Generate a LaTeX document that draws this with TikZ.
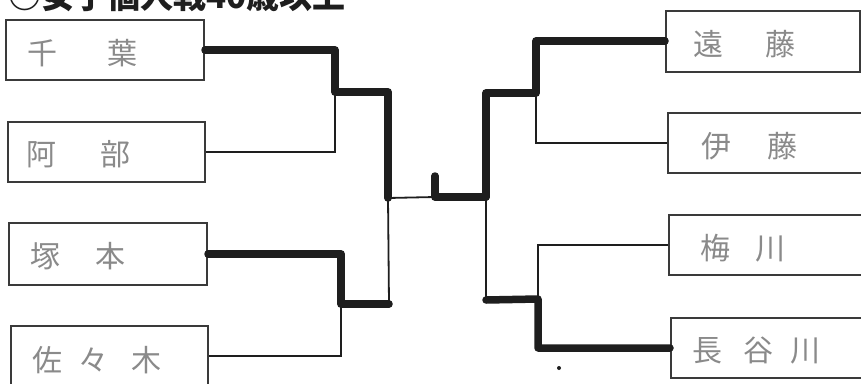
\documentclass[tikz,border=0pt]{standalone}
\usepackage{fontspec}
\newfontfamily\cjk{Noto Sans CJK JP}
\definecolor{ink}{HTML}{1E1E1E}
\definecolor{boxc}{HTML}{3A3A3A}
\definecolor{hand}{HTML}{8A8A8A}
\begin{document}
\begin{tikzpicture}[x=1pt,y=-1pt,
  box/.style={draw=boxc, line width=2pt, rectangle, inner sep=0pt},
  thinline/.style={draw=ink, line width=1.8pt},
  winline/.style={draw=ink, line width=7.5pt, line join=round, line cap=round},
  hname/.style={anchor=west, text=hand, font=\cjk\fontsize{30}{30}\selectfont, inner sep=0pt}]
\useasboundingbox (0,0) rectangle (861,383);
\clip (0,0) rectangle (861,383);
\fill[white] (0,0) rectangle (861,383);
% title (cut off at the top)
\node[anchor=base west, inner sep=0pt, text=ink, font=\cjk\bfseries\fontsize{33}{33}\selectfont] (title) at (8,8) {○女子個人戦40歳以上};
% boxes
\node[box, minimum width=198pt, minimum height=60pt] (L1) at (105,50) {};
\node[box, minimum width=197pt, minimum height=60pt] (L2) at (106.5,152) {};
\node[box, minimum width=198pt, minimum height=62pt] (L3) at (108,254) {};
\node[box, minimum width=197pt, minimum height=60pt] (L4) at (109.5,356) {};
\node[box, minimum width=194pt, minimum height=61pt] (R1) at (763,41) {};
\node[box, minimum width=196pt, minimum height=60pt] (R2) at (766,143) {};
\node[box, minimum width=195pt, minimum height=60pt] (R3) at (766.5,245) {};
\node[box, minimum width=193pt, minimum height=60pt] (R4) at (767.5,348) {};
% names
\node[hname] (n1) at (27,53) {千\hspace{50pt}葉};
\node[hname] (n2) at (26,154) {阿\hspace{44pt}部};
\node[hname] (n3) at (30,256) {塚\hspace{35pt}本};
\node[hname] (n4) at (32,360) {佐\hspace{16pt}々\hspace{23pt}木};
\node[hname] (n5) at (693,44) {遠\hspace{42pt}藤};
\node[hname] (n6) at (701,146) {伊\hspace{36pt}藤};
\node[hname] (n7) at (700,248) {梅\hspace{25pt}川};
\node[hname] (n8) at (692,350) {長\hspace{21pt}谷\hspace{17pt}川};
% junction points
\coordinate (q1) at (335,92);
\coordinate (s1) at (388,92);
\coordinate (c1) at (388,198);
\coordinate (q2) at (341,304);
\coordinate (s2) at (389,304);
\coordinate (m) at (435,197);
\coordinate (b) at (435,176);
\coordinate (c2) at (486,197);
\coordinate (r1) at (536,93);
\coordinate (t1) at (486,93);
\coordinate (r2) at (538,299);
\coordinate (t2) at (486,300);
% thin lines
\draw[thinline] (L2.east) -| (q1);
\draw[thinline] (L4.east) -| (q2);
\draw[thinline] (s2) -- (c1) -- (m);
\draw[thinline] (R2.west) -| (r1);
\draw[thinline] (R3.west) -| (r2);
\draw[thinline] (t2) -- (c2);
% winners (thick)
\draw[winline] (L1.east) -| (q1) -- (s1) -- (c1);
\draw[winline] (L3.east) -| (q2) -- (s2);
\draw[winline] (b) -- (m) -- (c2);
\draw[winline] (R1.west) -| (r1) -- (t1) -- (c2);
\draw[winline] (R4.west) -| (r2) -- (t2);
% stray dot
\fill[ink] (559,368) circle (2pt);
\end{tikzpicture}
\end{document}
